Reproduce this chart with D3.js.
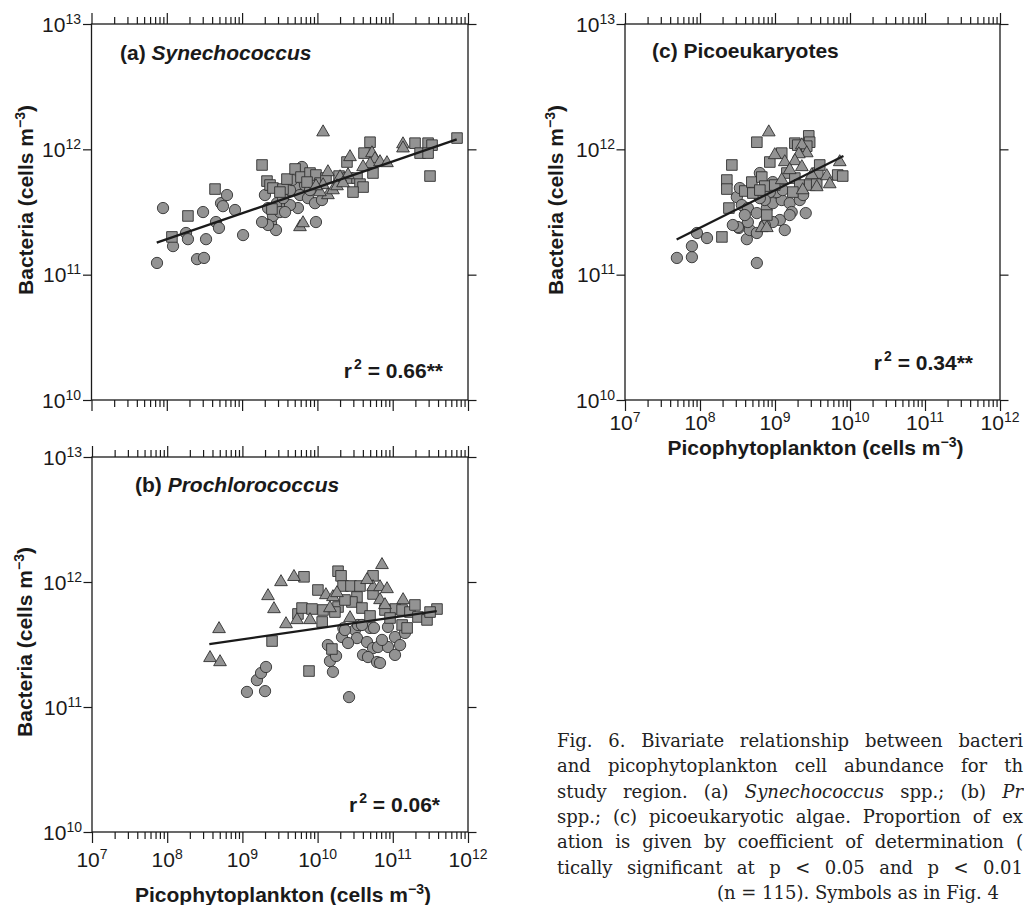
<!DOCTYPE html>
<html>
<head>
<meta charset="utf-8">
<script src="https://cdn.jsdelivr.net/npm/d3@7"></script>
<style>
  body { margin: 0; background: #fff; }
  svg { display: block; }
  text { font-family: "Liberation Sans", Arial, Helvetica, sans-serif; fill: #1a1a1a; }
  .tick-label { font-size: 21px; }
  .bold { font-size: 21px; font-weight: bold; }
  .caption { font-family: "DejaVu Serif", serif; font-size: 18px; fill: #222; }
</style>
</head>
<body>
<svg width="1024" height="905"></svg>
<script>
// ---- data (cells m^-3) ----
const xDecades = [1e7, 1e8, 1e9, 1e10, 1e11, 1e12]
const yDecades = [1e10, 1e11, 1e12, 1e13]
const xExponents = ["7", "8", "9", "10", "11", "12"]
const yExponents = ["10", "11", "12", "13"]

// (a) Synechococcus
const synCircles = [[7.41e7,1.24e11],[8.91e7,3.40e11],[1.21e8,1.69e11],[1.80e8,2.15e11],[1.91e8,1.92e11],[2.52e8,1.33e11],[3.12e8,1.36e11],[3.03e8,3.16e11],[3.32e8,1.92e11],[4.50e8,2.63e11],[4.93e8,2.36e11],[5.25e8,3.72e11],[5.57e8,3.52e11],[6.30e8,4.32e11],[8.05e8,3.28e11],[1.03e9,2.07e11],[2.01e9,4.32e11],[2.42e9,2.58e11],[2.82e9,2.27e11],[2.57e9,2.94e11],[2.90e9,3.72e11],[3.94e9,3.59e11],[5.52e9,3.40e11],[6.24e9,7.23e11],[5.05e9,5.00e11],[5.87e9,4.32e11],[7.50e9,4.08e11],[9.29e9,3.72e11],[4.33e9,3.59e11],[9.57e9,2.63e11],[3.49e9,4.08e11],[6.84e9,5.19e11],[4.33e9,4.73e11],[7.98e9,4.73e11],[3.18e9,3.16e11],[2.21e9,3.40e11],[2.21e9,2.49e11],[4.60e9,5.69e11],[8.47e9,5.38e11],[1.15e10,3.94e11],[3.72e9,3.16e11],[1.84e9,2.63e11]]
const synSquares = [[1.17e8,2.00e11],[1.91e8,2.94e11],[4.37e8,4.82e11],[1.84e9,7.50e11],[2.14e9,5.58e11],[2.35e9,5.19e11],[2.57e9,4.91e11],[2.49e9,3.34e11],[3.49e9,4.82e11],[3.94e9,5.79e11],[5.05e9,6.97e11],[6.05e9,6.01e11],[7.98e9,6.47e11],[9.57e9,6.24e11],[7.28e9,5.48e11],[1.94e10,6.12e11],[2.55e10,5.90e11],[3.36e10,5.90e11],[3.68e10,5.28e11],[4.04e10,5.00e11],[2.97e10,4.56e11],[2.47e10,7.92e11],[4.16e10,9.33e11],[5.00e10,1.14e12],[5.47e10,6.47e11],[1.98e11,1.12e12],[2.31e11,9.33e11],[2.95e11,1.12e12],[3.33e11,1.08e12],[2.95e11,9.33e11],[7.15e11,1.23e12],[3.13e11,6.12e11],[1.08e10,5.38e11],[1.30e10,5.90e11],[3.18e9,4.56e11]]
const synTriangles = [[1.19e10,1.37e12],[2.71e10,8.69e11],[5.31e10,9.33e11],[5.82e10,8.38e11],[5.00e10,7.64e11],[4.04e10,7.23e11],[6.78e10,7.92e11],[8.39e10,7.78e11],[1.37e11,1.10e12],[1.37e11,1.02e12],[2.55e10,6.24e11],[2.00e10,6.01e11],[1.38e10,6.59e11],[1.19e10,5.19e11],[1.38e10,4.32e11],[1.08e10,4.56e11],[1.61e10,4.73e11],[5.87e9,2.40e11],[6.44e9,2.58e11],[1.82e10,5.09e11],[2.19e10,5.38e11],[9.57e9,5.09e11]]
const synFit = [[7.35e7,1.80e11],[7.08e11,1.20e12]]

// (b) Prochlorococcus
const proCircles = [[1.15e9,1.32e11],[2.00e9,1.34e11],[1.56e9,1.64e11],[1.77e9,1.87e11],[2.06e9,2.09e11],[2.62e10,1.20e11],[1.37e10,3.13e11],[1.46e10,2.33e11],[1.60e10,1.91e11],[3.14e10,4.13e11],[2.11e10,3.63e11],[3.34e10,3.56e11],[4.54e10,3.31e11],[5.46e10,2.96e11],[4.02e10,2.61e11],[4.68e10,2.51e11],[6.35e10,3.02e11],[8.63e10,3.02e11],[1.07e11,3.63e11],[8.63e10,4.37e11],[1.45e11,3.91e11],[1.07e11,2.61e11],[6.17e10,2.29e11],[6.76e10,2.25e11],[4.98e10,4.29e11],[5.62e10,4.29e11],[2.20e10,4.27e11],[2.54e10,3.25e11],[3.44e10,4.53e11],[2.31e10,4.13e11],[7.18e10,3.44e11],[1.25e11,3.13e11],[3.89e10,4.53e11],[1.76e10,2.56e11]]
const proSquares = [[6.59e9,1.10e12],[2.48e9,3.37e11],[7.69e9,1.94e11],[5.48e9,5.55e11],[6.21e9,6.19e11],[8.43e9,6.08e11],[1.15e10,4.79e11],[1.55e10,2.91e11],[1.87e10,1.22e12],[2.05e10,1.12e12],[2.18e10,9.29e11],[2.78e10,9.29e11],[3.66e10,9.29e11],[5.46e10,1.12e12],[5.46e10,8.02e11],[3.34e10,7.59e11],[2.86e10,6.92e11],[3.89e10,6.19e11],[4.98e10,5.35e11],[1.87e10,6.31e11],[1.70e10,5.75e11],[1.07e11,6.08e11],[1.33e11,5.97e11],[1.69e11,5.75e11],[2.16e11,5.25e11],[2.85e11,4.97e11],[3.87e11,6.08e11],[1.33e11,4.53e11],[1.55e11,4.29e11],[1.18e10,5.97e11],[7.87e10,5.97e11],[9.19e10,5.15e11],[1.97e11,6.55e11],[3.13e11,5.75e11],[2.31e10,7.18e11],[1.01e10,8.63e11]]
const proTriangles = [[4.89e8,4.21e11],[3.71e8,2.47e11],[5.04e8,2.29e11],[2.19e9,7.73e11],[2.63e9,6.08e11],[3.26e9,1.00e12],[4.85e9,1.10e12],[3.80e9,4.61e11],[5.32e9,4.97e11],[7.93e9,4.97e11],[1.29e10,7.87e11],[1.60e10,7.59e11],[1.81e10,8.17e11],[1.46e10,6.19e11],[2.70e10,5.15e11],[7.18e10,1.37e12],[5.46e10,9.12e11],[6.76e10,9.12e11],[8.38e10,8.79e11],[6.76e10,7.18e11],[7.87e10,6.55e11],[1.37e11,7.18e11],[4.54e10,1.04e12]]
const proFit = [[3.63e8,3.18e11],[3.84e11,5.86e11]]

// (c) Picoeukaryotes
const picoCircles = [[4.92e7,1.36e11],[7.80e7,1.38e11],[7.80e7,1.69e11],[9.10e7,2.15e11],[1.24e8,1.96e11],[5.73e8,1.24e11],[2.57e9,3.10e11],[3.30e8,2.36e11],[4.21e8,1.92e11],[4.61e8,2.27e11],[3.10e8,4.16e11],[3.61e8,3.59e11],[4.35e8,3.40e11],[5.73e8,3.10e11],[7.78e8,3.40e11],[9.35e8,3.72e11],[1.23e9,3.94e11],[1.57e9,3.72e11],[1.67e9,3.16e11],[1.16e9,2.73e11],[9.35e8,2.63e11],[5.73e8,2.15e11],[4.35e8,2.63e11],[3.20e8,2.40e11],[1.06e9,4.56e11],[6.28e8,6.47e11],[9.35e8,5.48e11],[8.53e8,4.56e11],[1.27e9,4.73e11],[3.96e8,2.99e11],[7.31e8,3.94e11],[2.14e9,3.94e11],[2.37e9,4.32e11],[2.74e8,2.49e11],[6.28e8,4.08e11],[1.57e9,2.99e11],[7.31e8,2.49e11],[1.35e9,2.27e11],[3.40e8,4.91e11]]
const picoSquares = [[1.96e8,2.00e11],[5.73e8,1.14e12],[2.66e8,7.50e11],[2.28e8,5.69e11],[2.28e8,4.82e11],[2.43e8,3.40e11],[3.96e8,4.65e11],[4.91e8,5.48e11],[6.67e8,6.01e11],[7.31e8,5.09e11],[5.06e8,4.48e11],[7.78e8,2.99e11],[1.84e9,1.12e12],[2.01e9,1.08e12],[2.82e9,1.28e12],[2.90e9,1.14e12],[2.65e9,1.06e12],[1.23e9,9.33e11],[8.53e8,7.92e11],[1.44e9,6.47e11],[1.84e9,5.90e11],[2.14e9,5.19e11],[2.90e9,5.19e11],[3.72e9,6.47e11],[1.73e9,4.56e11],[6.86e9,6.24e11],[8.00e9,6.12e11],[3.60e9,5.28e11],[9.93e8,5.19e11],[6.28e8,4.73e11],[3.95e9,7.50e11]]
const picoTriangles = [[8.26e8,1.37e12],[2.28e9,1.08e12],[2.65e9,9.33e11],[2.08e9,9.16e11],[9.93e8,9.01e11],[1.35e9,7.92e11],[1.84e9,8.07e11],[2.28e9,7.23e11],[1.57e9,6.84e11],[7.30e9,7.92e11],[4.90e9,6.12e11],[5.37e9,5.28e11],[3.60e9,5.00e11],[2.34e9,4.73e11],[6.67e8,2.36e11],[7.78e8,2.36e11],[3.09e9,6.24e11],[1.23e9,5.69e11]]
const picoFit = [[4.88e7,1.91e11],[8.17e9,8.86e11]]

const panelLabels = [["(a) ", "Synechococcus", true], ["(b) ", "Prochlorococcus", true], ["(c) ", "Picoeukaryotes", false]]
const r2Values = ["0.66**", "0.06*", "0.34**"]

const captionLines = [
  "Fig. 6. Bivariate relationship between bacteri",
  "and picophytoplankton cell abundance for th",
  "study region. (a) *Synechococcus* spp.; (b) *Pr*",
  "spp.; (c) picoeukaryotic algae. Proportion of ex",
  "ation is given by coefficient of determination (",
  "tically significant at p < 0.05 and p < 0.01",
  "(n = 115). Symbols as in Fig. 4"
]

const svg = d3.select("svg")

// panel layout
const panels = [
  { left: 91.5, right: 468, top: 24, bottom: 400, label: panelLabels[0], labelX: 120, labelY: 60,
    circles: synCircles, squares: synSquares, triangles: synTriangles, fit: synFit, r2: r2Values[0],
    r2X: 443, r2Y: 378, yTitleX: 33, yTitleY: 200, yLabelX: 81, xLabels: false },
  { left: 92, right: 468, top: 457, bottom: 832, label: panelLabels[1], labelX: 135, labelY: 492,
    circles: proCircles, squares: proSquares, triangles: proTriangles, fit: proFit, r2: r2Values[1],
    r2X: 440, r2Y: 812, yTitleX: 32, yTitleY: 642, yLabelX: 82, xLabels: true, xLabelY: 867, xTitleY: 902 },
  { left: 625, right: 1000, top: 24, bottom: 400, label: panelLabels[2], labelX: 652, labelY: 58,
    circles: picoCircles, squares: picoSquares, triangles: picoTriangles, fit: picoFit, r2: r2Values[2],
    r2X: 973, r2Y: 370, yTitleX: 563, yTitleY: 200, yLabelX: 615, xLabels: true, xLabelY: 430, xTitleY: 455 }
]

const markFill = "#939393"
const markStroke = "#303030"

panels.forEach(p => {
  const x = d3.scaleLog().domain([1e7, 1e12]).range([p.left, p.right])
  const y = d3.scaleLog().domain([1e10, 1e13]).range([p.bottom, p.top])
  const g = svg.append("g")

  const minor = x.ticks().filter(v => !xDecades.includes(v))

  // axes: ticks only, frame drawn separately
  const axes = [
    [d3.axisBottom(x).tickValues(xDecades).tickSize(11), p.bottom],
    [d3.axisBottom(x).tickValues(minor).tickSize(7), p.bottom],
    [d3.axisTop(x).tickValues(xDecades).tickSize(11), p.top],
    [d3.axisTop(x).tickValues(minor).tickSize(7), p.top]
  ]
  axes.forEach(([ax, pos]) => {
    g.append("g")
      .attr("transform", `translate(0,${pos})`)
      .call(ax.tickFormat(""))
      .call(s => s.select(".domain").remove())
  })
  g.append("g").attr("transform", `translate(${p.left},0)`)
    .call(d3.axisLeft(y).tickValues(yDecades).tickSize(8.5).tickFormat(""))
    .call(s => s.select(".domain").remove())
  g.append("g").attr("transform", `translate(${p.right},0)`)
    .call(d3.axisRight(y).tickValues(yDecades).tickSize(8.5).tickFormat(""))
    .call(s => s.select(".domain").remove())
  g.selectAll(".tick line").attr("stroke", "#1a1a1a").attr("stroke-width", 1.2)

  g.append("rect")
    .attr("x", p.left).attr("y", p.top)
    .attr("width", p.right - p.left).attr("height", p.bottom - p.top)
    .attr("fill", "none").attr("stroke", "#1a1a1a").attr("stroke-width", 1.3)

  // y tick labels
  yDecades.forEach((v, i) => {
    const t = g.append("text").attr("class", "tick-label")
      .attr("x", p.yLabelX).attr("y", y(v) + 7.5)
      .attr("text-anchor", "end")
      .text("10")
    t.append("tspan").attr("dy", -8).attr("font-size", 14).text(yExponents[i])
  })

  // x tick labels and title
  if (p.xLabels) {
    xDecades.forEach((v, i) => {
      const t = g.append("text").attr("class", "tick-label")
        .attr("x", x(v)).attr("y", p.xLabelY)
        .attr("text-anchor", "middle")
        .text("10")
      t.append("tspan").attr("dy", -8).attr("font-size", 14).text(xExponents[i])
    })
    const xt = g.append("text").attr("class", "bold")
      .attr("x", (p.left + p.right) / 2 + 3).attr("y", p.xTitleY)
      .attr("text-anchor", "middle")
      .text("Picophytoplankton (cells m")
    xt.append("tspan").attr("dy", -8).attr("font-size", 14).text("\u22123")
    xt.append("tspan").attr("dy", 8).text(")")
  }

  // y title
  const yt = g.append("text").attr("class", "bold")
    .attr("transform", `translate(${p.yTitleX},${p.yTitleY}) rotate(-90)`)
    .attr("text-anchor", "middle")
    .text("Bacteria (cells m")
  yt.append("tspan").attr("dy", -8).attr("font-size", 14).text("\u22123")
  yt.append("tspan").attr("dy", 8).text(")")

  // panel label
  const lb = g.append("text").attr("class", "bold")
    .attr("x", p.labelX).attr("y", p.labelY)
    .text(p.label[0])
  lb.append("tspan").attr("font-style", p.label[2] ? "italic" : "normal").text(p.label[1])

  // points
  const shapes = [
    [p.circles, d3.symbolCircle, 100],
    [p.squares, d3.symbolSquare, 112],
    [p.triangles, d3.symbolTriangle, 70]
  ]
  shapes.forEach(([data, type, size]) => {
    g.append("g").selectAll("path")
      .data(data)
      .enter()
      .append("path")
      .attr("d", d3.symbol().type(type).size(size))
      .attr("transform", d => `translate(${x(d[0])},${y(d[1])})`)
      .attr("fill", markFill)
      .attr("stroke", markStroke)
      .attr("stroke-width", 0.9)
  })

  // regression line
  g.append("path")
    .datum(p.fit)
    .attr("d", d3.line().x(d => x(d[0])).y(d => y(d[1])))
    .attr("fill", "none")
    .attr("stroke", "#1a1a1a")
    .attr("stroke-width", 2.3)

  // r^2
  const r = g.append("text").attr("class", "bold")
    .attr("x", p.r2X).attr("y", p.r2Y)
    .attr("text-anchor", "end")
    .text("r")
  r.append("tspan").attr("dx", 2).attr("dy", -9).attr("font-size", 14).text("2")
  r.append("tspan").attr("dy", 9).text(" = " + p.r2)
})

// caption, justified lines clipped at the page edge
const capLeft = 557
const capRight = 1023
const capTop = 747
const capStep = 25.3

captionLines.forEach((line, i) => {
  const yPos = capTop + i * capStep
  const words = line.split(" ")
  if (i === captionLines.length - 1) {
    svg.append("text").attr("class", "caption")
      .attr("x", 858).attr("y", yPos).attr("text-anchor", "middle")
      .text(line)
    return
  }
  const nodes = words.map(w => {
    const italic = w.startsWith("*")
    return svg.append("text").attr("class", "caption")
      .attr("y", yPos)
      .attr("font-style", italic ? "italic" : "normal")
      .text(w.replace(/\*/g, ""))
  })
  const widths = nodes.map(n => n.node().getComputedTextLength())
  const gap = (capRight - capLeft - d3.sum(widths)) / (words.length - 1)
  let cx = capLeft
  nodes.forEach((n, k) => {
    n.attr("x", cx)
    cx += widths[k] + gap
  })
})
</script>
</body>
</html>
